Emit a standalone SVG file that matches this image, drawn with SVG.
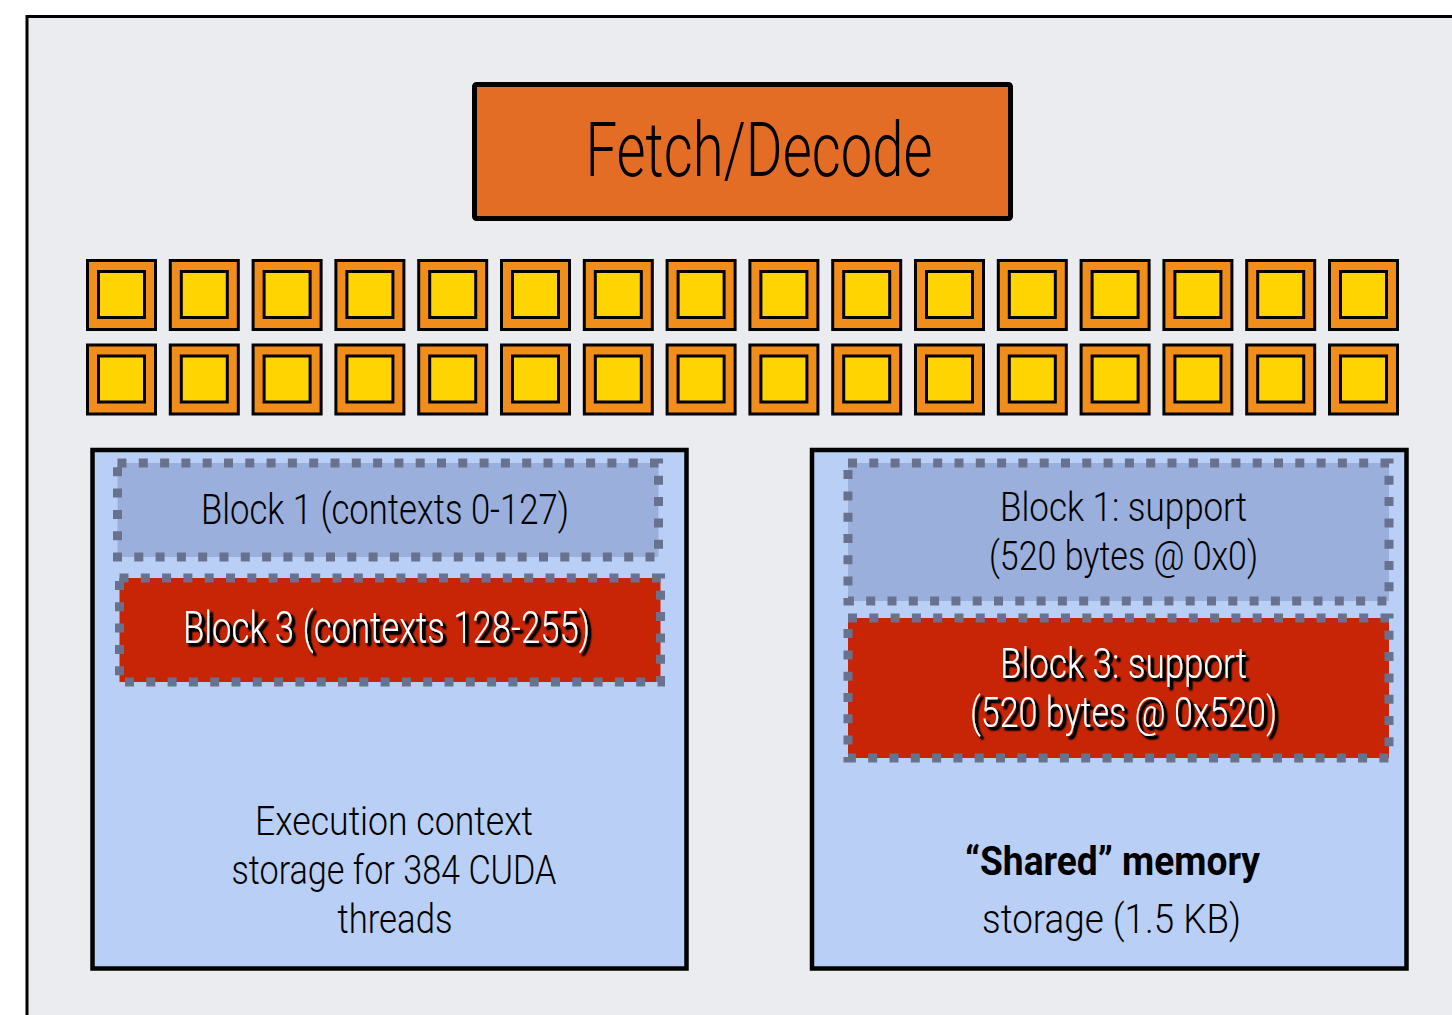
<svg xmlns="http://www.w3.org/2000/svg" xmlns:xlink="http://www.w3.org/1999/xlink" width="1452" height="1015" viewBox="0 0 1452 1015">
<style>
.frame{fill:#ebecf0;stroke:#000;stroke-width:3}
.fetch{fill:#e36d25;stroke:#000;stroke-width:5}
.panel{fill:#bacff6;stroke:#000;stroke-width:4.5}
.blk1{fill:#9aafdc}
.blk3{fill:#c82406}
.dash{fill:none;stroke:#68728f;stroke-width:9;stroke-dasharray:9 12.3}
.co{fill:#f18d1b;stroke:#000;stroke-width:3}
.ci{fill:#ffd400;stroke:#000;stroke-width:3}
text{font-family:Roboto,"Liberation Sans Narrow","Liberation Sans",sans-serif;font-weight:300;text-anchor:middle;fill:#000}
.w{fill:#fff;filter:url(#shadow)}
.b{font-weight:700}
</style>
<defs>
<filter id="shadow" x="-5%" y="-20%" width="115%" height="160%">
<feGaussianBlur in="SourceAlpha" stdDeviation="1.3" result="bl"/>
<feOffset in="bl" dx="3" dy="3" result="of"/>
<feComponentTransfer in="of" result="sh"><feFuncA type="linear" slope="2.2"/></feComponentTransfer>
<feMerge><feMergeNode in="sh"/><feMergeNode in="SourceGraphic"/></feMerge>
</filter>
<g id="core">
<rect class="co" x="0" y="0" width="68" height="69"/>
<rect class="ci" x="11" y="11" width="46" height="46"/>
</g>
</defs>

<rect class="frame" x="27" y="16.5" width="1440" height="1010"/>

<g id="fetch-decode">
<rect class="fetch" x="474.5" y="84.5" width="536" height="134" rx="2"/>
<text x="759" y="176" font-size="76" textLength="347" lengthAdjust="spacingAndGlyphs">Fetch/Decode</text>
</g>

<g id="cores">
<g id="core-1-1"><use href="#core" x="87.5" y="260.5"/></g>
<g id="core-1-2"><use href="#core" x="170.3" y="260.5"/></g>
<g id="core-1-3"><use href="#core" x="253.1" y="260.5"/></g>
<g id="core-1-4"><use href="#core" x="335.9" y="260.5"/></g>
<g id="core-1-5"><use href="#core" x="418.7" y="260.5"/></g>
<g id="core-1-6"><use href="#core" x="501.5" y="260.5"/></g>
<g id="core-1-7"><use href="#core" x="584.3" y="260.5"/></g>
<g id="core-1-8"><use href="#core" x="667.1" y="260.5"/></g>
<g id="core-1-9"><use href="#core" x="749.9" y="260.5"/></g>
<g id="core-1-10"><use href="#core" x="832.7" y="260.5"/></g>
<g id="core-1-11"><use href="#core" x="915.5" y="260.5"/></g>
<g id="core-1-12"><use href="#core" x="998.3" y="260.5"/></g>
<g id="core-1-13"><use href="#core" x="1081.1" y="260.5"/></g>
<g id="core-1-14"><use href="#core" x="1163.9" y="260.5"/></g>
<g id="core-1-15"><use href="#core" x="1246.7" y="260.5"/></g>
<g id="core-1-16"><use href="#core" x="1329.5" y="260.5"/></g>
<g id="core-2-1"><use href="#core" x="87.5" y="345"/></g>
<g id="core-2-2"><use href="#core" x="170.3" y="345"/></g>
<g id="core-2-3"><use href="#core" x="253.1" y="345"/></g>
<g id="core-2-4"><use href="#core" x="335.9" y="345"/></g>
<g id="core-2-5"><use href="#core" x="418.7" y="345"/></g>
<g id="core-2-6"><use href="#core" x="501.5" y="345"/></g>
<g id="core-2-7"><use href="#core" x="584.3" y="345"/></g>
<g id="core-2-8"><use href="#core" x="667.1" y="345"/></g>
<g id="core-2-9"><use href="#core" x="749.9" y="345"/></g>
<g id="core-2-10"><use href="#core" x="832.7" y="345"/></g>
<g id="core-2-11"><use href="#core" x="915.5" y="345"/></g>
<g id="core-2-12"><use href="#core" x="998.3" y="345"/></g>
<g id="core-2-13"><use href="#core" x="1081.1" y="345"/></g>
<g id="core-2-14"><use href="#core" x="1163.9" y="345"/></g>
<g id="core-2-15"><use href="#core" x="1246.7" y="345"/></g>
<g id="core-2-16"><use href="#core" x="1329.5" y="345"/></g>
</g>

<g id="context-storage">
<rect class="panel" x="92.5" y="450" width="594" height="518.5"/>
<text x="394" y="835" font-size="40" textLength="278" lengthAdjust="spacingAndGlyphs">Execution context</text>
<text x="394" y="884" font-size="40" textLength="325" lengthAdjust="spacingAndGlyphs">storage for 384 CUDA</text>
<text x="395" y="933" font-size="40" textLength="115" lengthAdjust="spacingAndGlyphs">threads</text>
</g>
<g id="block1-contexts">
<rect class="blk1" x="117.5" y="463" width="541" height="94"/>
<rect class="dash" x="117.5" y="463" width="541" height="94"/>
<text x="385" y="524" font-size="42" textLength="368" lengthAdjust="spacingAndGlyphs">Block 1 (contexts 0-127)</text>
</g>
<g id="block3-contexts">
<rect class="blk3" x="119.5" y="578" width="541" height="104"/>
<rect class="dash" x="119.5" y="578" width="541" height="104"/>
<text class="w" x="386.5" y="643" font-size="44" textLength="407" lengthAdjust="spacingAndGlyphs">Block 3 (contexts 128-255)</text>
</g>

<g id="shared-memory">
<rect class="panel" x="812" y="450" width="594.5" height="518.5"/>
<text class="b" x="1112.5" y="875" font-size="40" textLength="295" lengthAdjust="spacingAndGlyphs">“Shared” memory</text>
<text x="1111.5" y="933" font-size="41" textLength="259" lengthAdjust="spacingAndGlyphs">storage (1.5 KB)</text>
</g>
<g id="block1-support">
<rect class="blk1" x="848" y="463" width="541" height="138"/>
<rect class="dash" x="848" y="463" width="541" height="138"/>
<text x="1123.5" y="521" font-size="41" textLength="247" lengthAdjust="spacingAndGlyphs">Block 1: support</text>
<text x="1123.5" y="570" font-size="41" textLength="269" lengthAdjust="spacingAndGlyphs">(520 bytes @ 0x0)</text>
</g>
<g id="block3-support">
<rect class="blk3" x="848" y="618" width="541" height="140"/>
<rect class="dash" x="848" y="618" width="541" height="140"/>
<text class="w" x="1123.5" y="678" font-size="43" textLength="247" lengthAdjust="spacingAndGlyphs">Block 3: support</text>
<text class="w" x="1123.5" y="727" font-size="43" textLength="307" lengthAdjust="spacingAndGlyphs">(520 bytes @ 0x520)</text>
</g>
</svg>
